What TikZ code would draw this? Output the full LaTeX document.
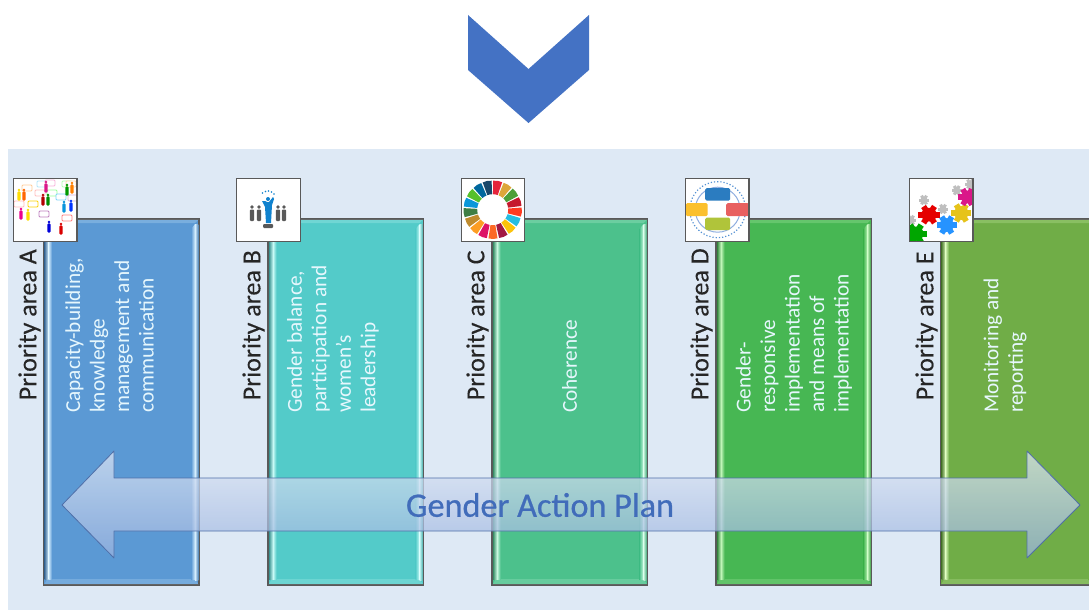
\documentclass[tikz,border=0pt]{standalone}
\usepackage{fontspec}
\setmainfont{Carlito}
\newfontfamily\gapfont[FakeBold=0.7]{Carlito}
\newfontfamily\areafont[FakeBold=0.25]{Carlito}
\definecolor{panelbg}{HTML}{DEE9F5}
\definecolor{chev}{HTML}{4472C4}
\definecolor{boxA}{HTML}{5B99D4}
\definecolor{lightA}{HTML}{D5EEFF}
\definecolor{boxB}{HTML}{53CBC9}
\definecolor{lightB}{HTML}{C8FAF6}
\definecolor{boxC}{HTML}{4CC18C}
\definecolor{lightC}{HTML}{C8F7DE}
\definecolor{boxD}{HTML}{47B753}
\definecolor{lightD}{HTML}{BFF5B8}
\definecolor{boxE}{HTML}{70AD47}
\definecolor{lightE}{HTML}{D5F5B5}
\definecolor{frameg}{HTML}{595959}
\definecolor{arrowline}{HTML}{4F6FA8}
\tikzset{
  prbox/.style={draw=frameg,line width=1.2pt,minimum width=155.5pt,minimum height=366pt,inner sep=0pt},
  iconbox/.style={draw=frameg,fill=white,line width=1.3pt,minimum width=63.5pt,minimum height=63pt,inner sep=0pt,outer sep=0pt},
  arealabel/.style={rotate=90,anchor=west,inner sep=0pt,font=\areafont\fontsize{26}{28}\selectfont,text=black!85},
  bodytext/.style={rotate=90,anchor=west,inner sep=0pt,align=left,text=white!90!cyan,font=\fontsize{21.3}{24.5}\selectfont},
}
% box with bevel strips: name, left x, base colour, light colour
\newcommand{\prboxdraw}[4]{
  \begin{scope}[shift={(#2,219)}]
    \node[prbox,fill=#3] (#1) at (77.75,183) {};
    \fill[#4,opacity=.25] (.6,.6) -- (155,.6) -- (151.5,4) -- (4,4) -- cycle;
    \fill[#4,opacity=.22] (.6,365.4) -- (155,365.4) -- (151.5,360) -- (4,360) -- cycle;
    \shade[left color=#3!70!black!90!#3,right color=#4] (1,1) rectangle (5,360);
    \shade[left color=#4,right color=#3] (5,1) rectangle (8.5,360);
    \shade[left color=#3,right color=#4] (147.5,10) -- (151.5,5) -- (151.5,361) -- (147.5,361) -- cycle;
    \shade[left color=#4,right color=#3!85!black] (151.5,5) rectangle (154.8,361);
  \end{scope}
}
\newcommand{\perso}[3]{
  \fill[#3] (#1,#2-5) circle (1.3);
  \fill[#3,rounded corners=1pt] (#1-1.6,#2-3.6) rectangle (#1+1.6,#2+5.5);
}
\newcommand{\bubb}[3]{
  \draw[#3,line width=.8pt,fill=white,rounded corners=1pt] (#1-5,#2-3) rectangle (#1+5,#2+3);
}
\newcommand{\gear}[5]{
  \begin{scope}[shift={(#1,#2)},xscale=#5]
    \fill[#4] (0,0) circle (#3*.72);
    \foreach \t in {0,60,...,300} {\draw[#4,line width=#3*.6pt] (0,0) -- (\t:#3);}
  \end{scope}
}
\begin{document}
\begin{tikzpicture}[x=1pt,y=-1pt]
\useasboundingbox (0,0) rectangle (1089,610);
\fill[white] (0,0) rectangle (1089,610);
% chevron
\fill[chev] (468,15) -- (528.5,69) -- (589,15) -- (589,70) -- (528.5,123) -- (468,70) -- cycle;
% panel
\fill[panelbg] (8,149) rectangle (1089,610);
\begin{scope}
\clip (0,0) rectangle (1089,610);
\prboxdraw{pa}{43.5}{boxA}{lightA}
\prboxdraw{pb}{268}{boxB}{lightB}
\prboxdraw{pc}{492}{boxC}{lightC}
\prboxdraw{pd}{716}{boxD}{lightD}
\prboxdraw{pe}{940.5}{boxE}{lightE}
\end{scope}
% labels
\node[arealabel] (la) at (29.5,400.5) {Priority area A};
\node[arealabel] (lb) at (253.5,400.5) {Priority area B};
\node[arealabel] (lc) at (477.5,400.5) {Priority area C};
\node[arealabel] (ld) at (701.5,400.5) {Priority area D};
\node[arealabel] (le) at (926.5,400.5) {Priority area E};
% body text
\node[bodytext] (ta) at (109.5,413) {Capacity-building,\\knowledge\\management and\\communication};
\node[bodytext] (tb) at (333,413) {Gender balance,\\participation and\\women’s\\leadership};
\node[bodytext] (tc) at (569.5,413) {Coherence};
\node[bodytext] (td) at (794,413) {Gender-\\responsive\\implementation\\and means of\\implementation};
\node[bodytext] (te) at (1005,413) {Monitoring and\\reporting};
% icon A
\node[iconbox] (ia) at (45.25,209.7) {};
\begin{scope}
\clip (ia.north west) rectangle (ia.south east);
\bubb{44}{214}{violet!50}\bubb{67}{218}{red!50}\bubb{33}{204}{yellow!70!orange}
\bubb{40}{193}{pink}\bubb{52}{193}{green!40}\bubb{61}{197}{cyan!50}\bubb{73}{198}{violet!30}
\bubb{27}{188}{orange!40}\bubb{19}{204}{pink}\bubb{42}{184}{cyan!30}\bubb{50}{183}{magenta!30}
\bubb{67}{184}{green!30}\bubb{71}{184}{orange!30}
\perso{61}{229}{red!85!black}\perso{49}{227}{blue!85!black}\perso{21}{214}{magenta}
\perso{28}{215}{yellow!80!orange}\perso{43}{200}{red!70!black}\perso{48}{200}{green!55!black}
\perso{64}{207}{cyan!80!blue}\perso{71}{206}{blue!80!cyan}\perso{46}{187}{magenta!80!violet}
\perso{24}{195}{orange!80!red}\perso{19}{195}{yellow!80!orange}\perso{67}{190}{green!60!black}
\perso{72}{188}{orange}
\end{scope}
\draw[frameg,line width=1.3pt] (ia.north west) rectangle (ia.south east);
% icon B
\node[iconbox] (ib) at (268.5,209.7) {};
\foreach \px in {252,259,278,284} {
  \fill[black!65] (\px,207) circle (1.8);
  \fill[black!65,rounded corners=1pt] (\px-2.2,209.5) rectangle (\px+2.2,221);
}
\fill[black!65,rounded corners=1pt] (263,224) rectangle (273,228);
\fill[cyan!65!blue] (268,199) circle (2);
\fill[cyan!65!blue] (262,201) -- (265,201) -- (267,202) -- (269,202) -- (273,197) -- (274,199) -- (272,205) -- (271,223) -- (266,223) -- (265,207) -- cycle;
\foreach \rx/\ry in {262.5/193,265.5/191.5,268.5/191,271.5/192,274/194} {\fill[cyan!65!blue] (\rx,\ry) circle (.8);}
% icon C
\node[iconbox] (ic) at (493,209.7) {};
\begin{scope}[shift={(492.7,209.7)}]
\foreach \c [count=\i] in {E5243B,DDA63A,4C9F38,C5192D,FF3A21,26BDE2,FCC30B,A21942,FD6925,DD1367,FD9D24,BF8B2E,3F7E44,0A97D9,56C02B,00689D,19486A} {
  \pgfmathsetmacro{\a}{-80+(\i-1)*21.176}
  \pgfmathsetmacro{\b}{\a-9}
  \pgfmathsetmacro{\d}{\a+9}
  \definecolor{sdg}{HTML}{\c}
  \fill[sdg] (\b:15.5) -- (\b:29) -- (\a:29.3) -- (\d:29) -- (\d:15.5) -- (\a:15.5) -- cycle;
}
\end{scope}
% icon D
\node[iconbox] (id) at (717.25,209.7) {};
\begin{scope}[shift={(717.7,209.7)}]
\draw[cyan!55!blue!70,line width=1.2pt,dotted] (0,0) circle (28);
\draw[cyan!50!blue!45,line width=1pt] (0,0) circle (22.5);
\fill[rounded corners=1.5pt,fill={rgb,255:red,43;green,124;blue,192}] (-12.5,-21.5) rectangle (12.5,-9);
\fill[rounded corners=1.5pt,fill={rgb,255:red,251;green,192;blue,45}] (-32,-6.5) rectangle (-10,6.5);
\fill[rounded corners=1.5pt,fill={rgb,255:red,232;green,96;blue,96}] (8.5,-6.5) rectangle (31.3,6.5);
\fill[rounded corners=1.5pt,fill={rgb,255:red,176;green,196;blue,58}] (-12.5,8) rectangle (12.5,20.5);
\end{scope}
\draw[frameg,line width=1.3pt] (id.north west) rectangle (id.south east);
% icon E
\node[iconbox] (ie) at (941.25,209.7) {};
\begin{scope}
\clip (ie.north west) rectangle (ie.south east);
\gear{924}{200}{5}{black!25}{1}\gear{943}{209}{5}{black!25}{1}\gear{956.7}{190.3}{5}{black!25}{1}
\gear{970}{184}{5}{black!25}{1}\gear{911}{220}{5}{black!25}{1}
\gear{915.7}{233.7}{10}{green!65!black}{1.1}
\gear{929}{214.7}{9.5}{red!90!black}{1.15}
\gear{946.7}{225}{9.5}{blue!50!cyan!85}{1.05}
\gear{961.3}{213}{9.5}{yellow!70!orange!90!black}{1.05}
\gear{967.3}{197}{9}{magenta!80!violet}{1}
\end{scope}
\draw[frameg,line width=1.3pt] (ie.north west) rectangle (ie.south east);
% double arrow
\shade[top color=white!75!chev!65,bottom color=chev!55,opacity=.72]
  (62,505) -- (114,451) -- (114,478) -- (1027,478) -- (1027,451) -- (1080,505) -- (1027,558) -- (1027,531) -- (114,531) -- (114,558) -- cycle;
\draw[arrowline,line width=.8pt,line join=round]
  (62,505) -- (114,451) -- (114,478) -- (1027,478) -- (1027,451) -- (1080,505) -- (1027,558) -- (1027,531) -- (114,531) -- (114,558) -- cycle;
\node[inner sep=0pt,text=chev!95!black,font=\gapfont\fontsize{34.2}{36}\selectfont] (gap) at (540,505) {Gender Action Plan};
\end{tikzpicture}
\end{document}
